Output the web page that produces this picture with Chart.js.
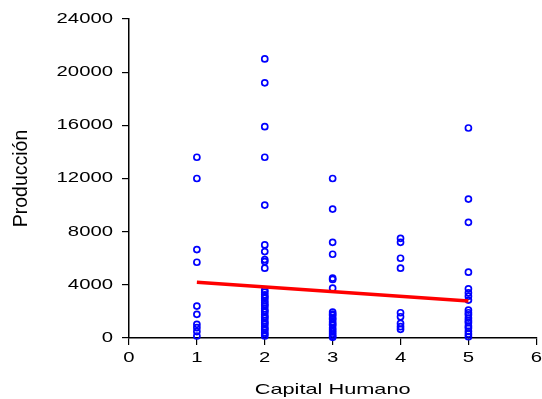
<!DOCTYPE html>
<html>
<head>
<meta charset="utf-8">
<script src="https://cdn.jsdelivr.net/npm/chart.js@4"></script>
<style>
  body { margin: 0; background: #fff; }
  canvas { display: block; }
</style>
</head>
<body>
<canvas id="grafico" width="542" height="399"></canvas>
<script>
// Producción observada por nivel de capital humano
const nivelesCapital = [1, 2, 3, 4, 5];
const prodNivel1 = [13600, 12000, 6650, 5700, 2400, 1780, 1030, 780, 480, 150];
const prodNivel2 = [21000, 19200, 15900, 13600, 10000, 7000, 6500, 5900, 5750, 5250,
  3600, 3450, 3250, 3100, 3000, 2800, 2650, 2500, 2400, 2200, 2050, 1950, 1750, 1600,
  1500, 1300, 1150, 1050, 850, 700, 600, 400, 300, 150];
const prodNivel3 = [12000, 9700, 7200, 6300, 4500, 4400, 3750,
  1950, 1800, 1700, 1500, 1400, 1200, 1050, 950, 750, 600, 450, 300, 150, 50];
const prodNivel4 = [7500, 7200, 6000, 5250, 1900, 1600, 1100, 850, 650];
const prodNivel5 = [15800, 10450, 8700, 4950, 3700, 3400, 3150, 2850,
  2100, 1900, 1750, 1500, 1300, 1150, 900, 750, 500, 300, 100];
const produccion = [prodNivel1, prodNivel2, prodNivel3, prodNivel4, prodNivel5];

// recta de regresion (extremos)
const rectaX = [1, 5];
const rectaY = [4200, 2780];

const ticksX = [0, 1, 2, 3, 4, 5, 6];
const ticksY = [0, 4000, 8000, 12000, 16000, 20000, 24000];

const puntos = [];
nivelesCapital.forEach((n, i) => {
  produccion[i].forEach(v => puntos.push({ x: n, y: v }));
});
const recta = rectaX.map((x, i) => ({ x: x, y: rectaY[i] }));

const canvas = document.getElementById('grafico');
const ctx = canvas.getContext('2d');

// texto horizontal ensanchado como en el original
const SX = 1.45;
const fillOrig = ctx.fillText.bind(ctx);
const measureOrig = ctx.measureText.bind(ctx);
const girado = () => Math.abs(ctx.getTransform().b) > 1e-6;
ctx.fillText = function (t, x, y, maxW) {
  if (girado()) return maxW === undefined ? fillOrig(t, x, y) : fillOrig(t, x, y, maxW);
  ctx.save();
  ctx.translate(x, y);
  ctx.scale(SX, 1);
  if (maxW === undefined) fillOrig(t, 0, 0); else fillOrig(t, 0, 0, maxW / SX);
  ctx.restore();
};
ctx.measureText = function (t) {
  const m = measureOrig(t);
  return {
    width: m.width * SX,
    actualBoundingBoxAscent: m.actualBoundingBoxAscent,
    actualBoundingBoxDescent: m.actualBoundingBoxDescent
  };
};

const grafico = new Chart(ctx, {
  type: 'scatter',
  data: {
    datasets: [
      {
        label: 'Ajuste',
        data: recta,
        showLine: true,
        borderColor: '#ff0000',
        borderWidth: 3.5,
        pointRadius: 0,
        order: 0
      },
      {
        label: 'Producción',
        data: puntos,
        pointRadius: 3,
        pointBorderWidth: 1.7,
        pointBorderColor: '#0000ff',
        pointBackgroundColor: 'rgba(0,0,0,0)',
        clip: false,
        order: 1
      }
    ]
  },
  options: {
    responsive: false,
    animation: false,
    events: [],
    layout: { padding: { top: 19, right: 5, bottom: 0, left: 0 } },
    plugins: { legend: { display: false }, tooltip: { enabled: false } },
    scales: {
      x: {
        type: 'linear',
        min: 0,
        max: 6,
        afterFit: s => { s.height = 61; s.paddingRight = 5; s.paddingLeft = 0; },
        afterBuildTicks: s => { s.ticks = ticksX.map(v => ({ value: v })); },
        ticks: {
          color: '#000',
          padding: 5,
          font: { family: 'Liberation Sans', size: 14 },
          callback: v => String(v)
        },
        grid: { drawOnChartArea: false, drawTicks: true, tickLength: 7, color: '#000', lineWidth: 1.2 },
        border: { display: true, color: '#000', width: 1.5 },
        title: {
          display: true,
          text: 'Capital Humano',
          color: '#000',
          padding: { top: 0, bottom: 0 },
          font: { family: 'Liberation Sans', size: 15 }
        }
      },
      y: {
        min: 0,
        max: 24000,
        afterFit: s => { s.width = 129; },
        afterBuildTicks: s => { s.ticks = ticksY.map(v => ({ value: v })); },
        ticks: {
          color: '#000',
          padding: 9,
          font: { family: 'Liberation Sans', size: 14 },
          callback: v => String(v)
        },
        grid: { drawOnChartArea: false, drawTicks: true, tickLength: 7, color: '#000', lineWidth: 1.2 },
        border: { display: true, color: '#000', width: 1.5 },
        title: {
          display: true,
          text: 'Producción',
          color: '#000',
          padding: { top: 9.5, bottom: 0 },
          font: { family: 'Liberation Sans', size: 19.5 }
        }
      }
    }
  }
});
</script>
</body>
</html>
